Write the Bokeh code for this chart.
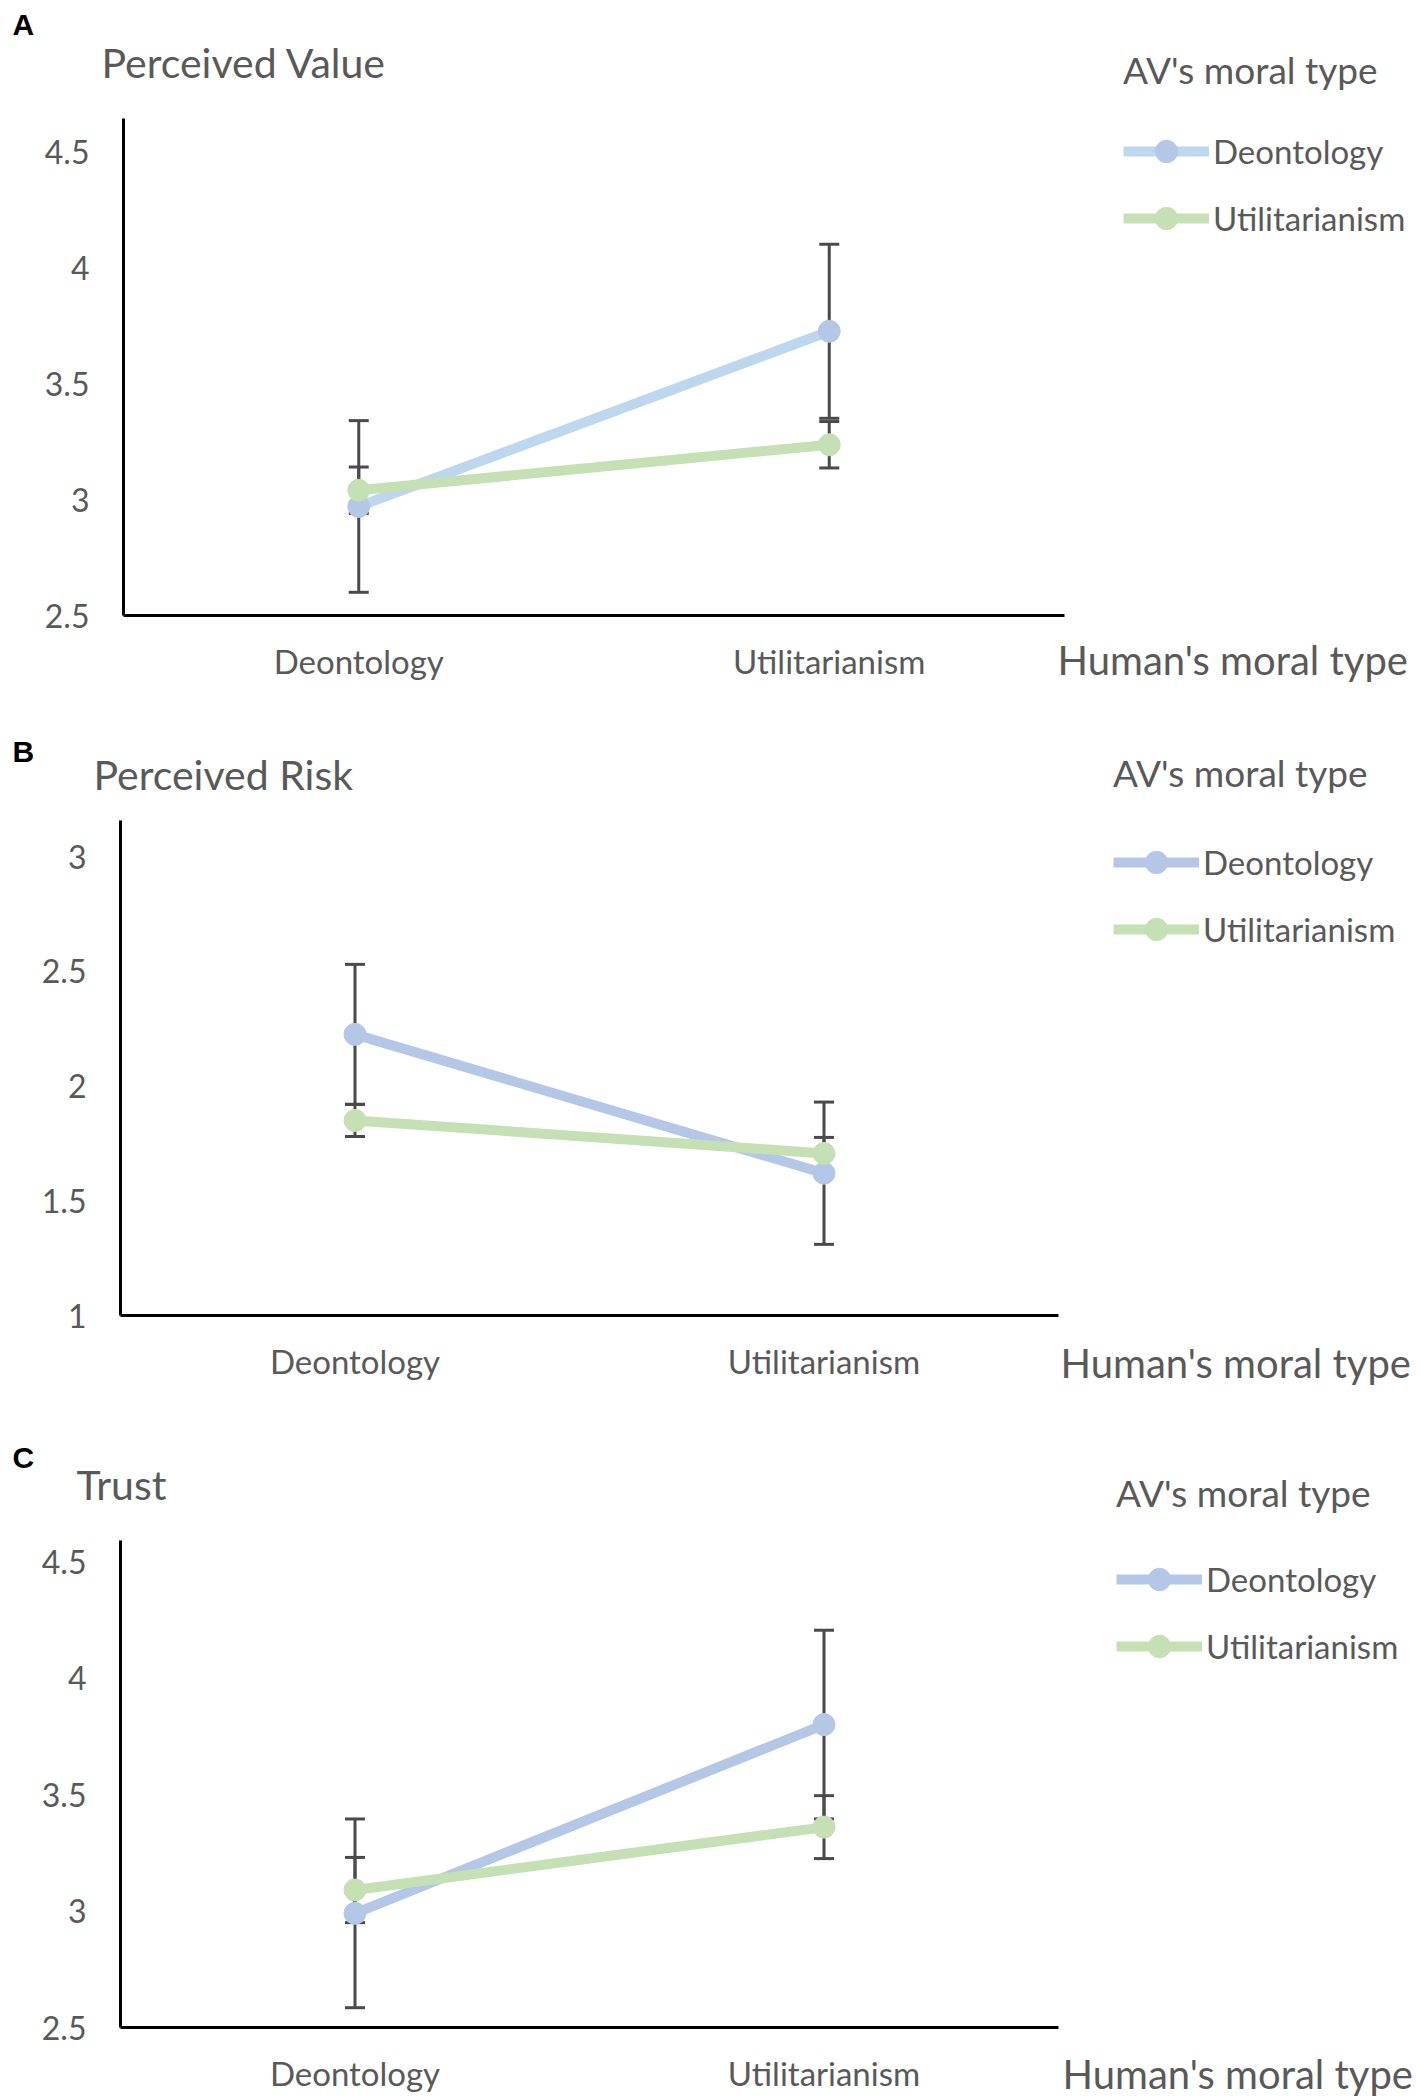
# Three interaction plots (moral type of the human x moral type of the AV)
from bokeh.plotting import figure
from bokeh.layouts import column
from bokeh.models import (ColumnDataSource, Range1d, FixedTicker,
                          NumeralTickFormatter, Label, Legend, LegendItem,
                          Whisker, TeeHead)
from bokeh.embed import file_html
from bokeh.resources import INLINE

# data
categories = ["Deontology", "Utilitarianism"]
series_names = ["Deontology", "Utilitarianism"]

value_deon = [2.97, 3.725]
value_deon_err = [0.37, 0.375]
value_util = [3.04, 3.236]
value_util_err = [0.10, 0.10]

risk_deon = [2.225, 1.62]
risk_deon_err = [0.305, 0.31]
risk_util = [1.85, 1.706]
risk_util_err = [0.07, 0.07]

trust_deon = [2.99, 3.80]
trust_deon_err = [0.405, 0.405]
trust_util = [3.09, 3.36]
trust_util_err = [0.14, 0.135]

value_ticks = [2.5, 3, 3.5, 4, 4.5]
risk_ticks = [1, 1.5, 2, 2.5, 3]
trust_ticks = [2.5, 3, 3.5, 4, 4.5]

GRAY = "#595959"
ERR = "#4a4a4a"
BLUE_LIGHT = "#BDD7EE"
BLUE = "#B4C7E7"
GREEN = "#C5E0B4"
FONT = "Lato"
PAGE_W = 1420

# category slots, Excel style: each category sits in the middle of its slot
cat_pos = [i + 0.5 for i in range(len(categories))]
n_cat = len(categories)


def put_text(p, fig_bottom, x, y, text, size, color=GRAY, font=FONT, style="normal"):
    # page pixels -> screen units (from the bottom-left of the frame, which fills the figure)
    p.add_layout(Label(x=x, y=fig_bottom - y, x_units="screen", y_units="screen",
                       text=text, text_font=font, text_font_size=f"{size}px",
                       text_color=color, text_align="left", text_baseline="middle",
                       text_font_style=style))


def err_bars(p, vals, errs):
    src = ColumnDataSource(dict(x=cat_pos,
                                upper=[v + e for v, e in zip(vals, errs)],
                                lower=[v - e for v, e in zip(vals, errs)]))
    w = Whisker(base="x", upper="upper", lower="lower", source=src, dimension="height",
                line_color=ERR, line_width=3, level="underlay",
                upper_head=TeeHead(size=20, line_color=ERR, line_width=3),
                lower_head=TeeHead(size=20, line_color=ERR, line_width=3))
    p.add_layout(w)


def make_panel(letter, title, deon, deon_err, util, util_err, y_lo, y_top, ticks,
               fig_top, fig_h, axis_px, texts, legend_px, title_gap, deon_line):
    # axis_px: page x of the y axis, page x of the axis end, page y of y_lo, page y of ticks[-1]
    xa, xb, ya, yt = axis_px
    ux = (xb - xa) / n_cat
    uy = (ya - yt) / (ticks[-1] - y_lo)
    fig_bottom = fig_top + fig_h
    x_range = Range1d(-xa / ux, n_cat + (PAGE_W - xb) / ux)
    y_range = Range1d(y_lo - (fig_bottom - ya) / uy, y_lo + (ya - fig_top) / uy)

    p = figure(width=PAGE_W, height=fig_h, title=None, x_range=x_range, y_range=y_range,
               output_backend="svg", toolbar_location=None,
               min_border_left=0, min_border_right=0, min_border_top=0, min_border_bottom=0)
    p.outline_line_color = None
    p.grid.visible = False

    # axes drawn inside the frame, Excel style
    p.xaxis.fixed_location = y_lo
    p.yaxis.fixed_location = 0
    p.xaxis.bounds = (0, n_cat)
    p.yaxis.bounds = (y_lo, y_top)
    for ax in (p.xaxis[0], p.yaxis[0]):
        ax.axis_line_color = "black"
        ax.axis_line_width = 3
        ax.major_tick_out = 0
        ax.major_tick_in = 0
        ax.minor_tick_out = 0
        ax.minor_tick_in = 0
        ax.major_label_text_color = GRAY
        ax.major_label_text_font = FONT
    p.yaxis.ticker = FixedTicker(ticks=ticks)
    p.yaxis.formatter = NumeralTickFormatter(format="0.[0]")
    p.yaxis.major_label_text_font_size = "32px"
    p.yaxis.major_label_standoff = 34
    p.xaxis.ticker = FixedTicker(ticks=cat_pos)
    p.xaxis.major_label_overrides = {pos: name for pos, name in zip(cat_pos, categories)}
    p.xaxis.major_label_text_font_size = "33px"
    p.xaxis.major_label_standoff = 25

    # error bars behind the lines
    err_bars(p, deon, deon_err)
    err_bars(p, util, util_err)

    r1 = p.line(cat_pos, deon, line_width=10, color=deon_line)
    m1 = p.scatter(cat_pos, deon, size=22, color=BLUE)
    r2 = p.line(cat_pos, util, line_width=10, color=GREEN)
    m2 = p.scatter(cat_pos, util, size=22, color=GREEN)

    lx, ly = legend_px
    legend = Legend(items=[LegendItem(label=series_names[0], renderers=[r1, m1]),
                           LegendItem(label=series_names[1], renderers=[r2, m2])],
                    location=(lx, fig_bottom - ly - 28), title="AV's moral type",
                    title_text_font=FONT, title_text_font_size="37px",
                    title_text_color=GRAY, title_text_font_style="normal",
                    title_standoff=title_gap,
                    label_text_font=FONT, label_text_font_size="33px",
                    label_text_color=GRAY, label_standoff=4,
                    glyph_width=86, glyph_height=56, label_height=56, spacing=11,
                    padding=0, margin=0, border_line_color=None,
                    background_fill_alpha=0)
    p.add_layout(legend)

    (cx, cy), (tx, ty), (hx, hy) = texts
    put_text(p, fig_bottom, cx, cy, letter, 30, color="black", font="Liberation Sans", style="bold")
    put_text(p, fig_bottom, tx, ty, title, 41)
    put_text(p, fig_bottom, hx, hy, "Human's moral type", 40)
    return p


pA = make_panel("A", "Perceived Value", value_deon, value_deon_err, value_util, value_util_err,
                2.5, 4.643, value_ticks, 0, 700, (123, 1064, 615, 151),
                ((12, 24), (101, 62), (1057, 659)), (1123, 218), 31, BLUE_LIGHT)
pB = make_panel("B", "Perceived Risk", risk_deon, risk_deon_err, risk_util, risk_util_err,
                1, 3.157, risk_ticks, 700, 705, (120, 1058, 1315, 856),
                ((12, 751), (93, 774), (1060, 1362)), (1113, 929), 39, BLUE)
pC = make_panel("C", "Trust", trust_deon, trust_deon_err, trust_util, trust_util_err,
                2.5, 4.592, trust_ticks, 1405, 693, (120, 1058, 2027, 1561),
                ((12, 1457), (76, 1484), (1062, 2073)), (1116, 1646), 36, BLUE)

page = column(pA, pB, pC)
open("out.html", "w").write(file_html(page, INLINE))
